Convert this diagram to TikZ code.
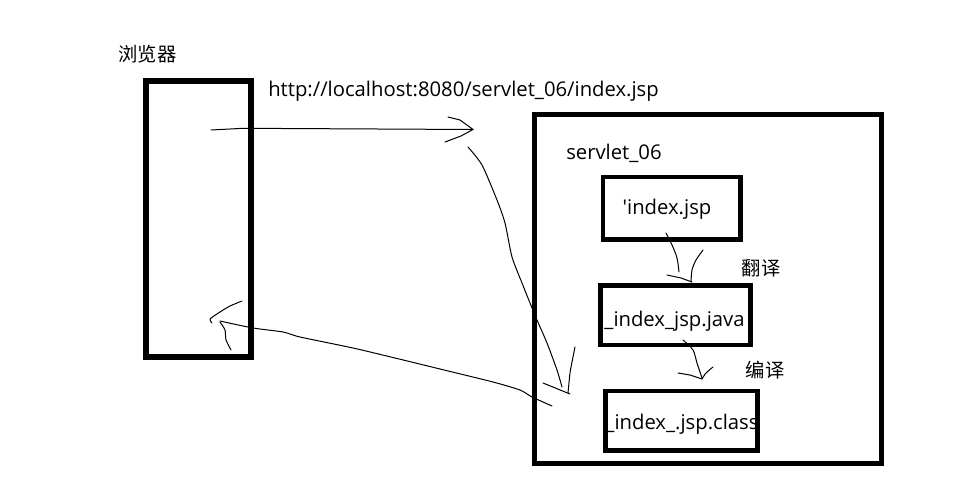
\documentclass[tikz,border=0pt]{standalone}
\usepackage{fontspec}
\setmainfont{Open Sans}
\newfontfamily\cjk{Noto Sans CJK SC}
\begin{document}
\begin{tikzpicture}[x=0.75pt,y=-0.75pt,
  bigbox/.style={draw,line width=4.5pt,inner sep=0pt},
  srvbox/.style={draw,line width=3.75pt,inner sep=0pt},
  filebox/.style={draw,line width=3.4pt,inner sep=0pt},
  txt/.style={font=\fontsize{15.2}{17}\selectfont,inner sep=0pt},
  cjktxt/.style={font=\cjk\fontsize{14.5}{16}\selectfont,inner sep=0pt},
  hand/.style={line width=0.75pt,line cap=round,line join=round}]
\useasboundingbox (0,0) rectangle (968,499);
% boxes
\node[bigbox,minimum width=78.75pt,minimum height=207pt] (browser) at (198.5,219) {};
\node[srvbox,minimum width=260.6pt,minimum height=261.75pt] (server) at (707.75,289) {};
\node[filebox,minimum width=103.1pt,minimum height=46.9pt] (jsp) at (671.75,208.25) {};
\node[filebox,minimum width=112.5pt,minimum height=44.6pt] (java) at (675.5,315.25) {};
\node[filebox,minimum width=114pt,minimum height=44.6pt] (cls) at (681.5,420.75) {};
% labels
\node[cjktxt] (lbrowser) at (147.5,54) {浏览器};
\node[txt,anchor=base west] (url) at (268,97) {http://localhost:8080/servlet\_06/index.jsp};
\node[txt,anchor=base west] (lserver) at (566,160) {servlet\_06};
\node[txt,anchor=base] (ljsp) at (667,215) {\textquotesingle index.jsp};
\node[txt,anchor=base] (ljava) at (674.5,326) {\_index\_jsp.java};
\node[txt,anchor=base] (lcls) at (682,429.3) {\_index\_.jsp.class};
\node[cjktxt] (ltrans) at (761,268) {翻译};
\node[cjktxt] (lcomp) at (765,370) {编译};
% request arrow
\coordinate (reqS) at (211,130);
\coordinate (reqE) at (473,129.5);
\draw[hand] (reqS) -- (243,128.3) -- (reqE);
\draw[hand] (448,117) -- (460,120) -- (reqE) -- (461,136) -- (445,142);
% down arrow into server
\coordinate (dnS) at (468,147);
\coordinate (dnE) at (562,387);
\draw[hand] plot[smooth,tension=0.4] coordinates {(dnS) (482,165) (497,200) (505,223) (512,257) (522,283) (530,303) (537,320) (547,343) (557,370) (dnE)};
\draw[hand] (543,383) -- (570,394);
\draw[hand] plot[smooth,tension=0.4] coordinates {(575,347) (572,362) (570,373) (568,393)};
% response arrow back to browser
\coordinate (rsS) at (552,406);
\coordinate (rsE) at (220,321);
\draw[hand] plot[smooth,tension=0.4] coordinates {(rsS) (532,397) (520,390) (493,382) (440,369) (395,358) (353,348) (300,337) (283,332) (253,328) (rsE)};
\draw[hand] plot[smooth,tension=0.4] coordinates {(242,301) (230,306) (220,312) (210,319) (212,323)};
\draw[hand] plot[smooth,tension=0.4] coordinates {(220,322) (225,330) (226,340) (231,350)};
% jsp -> java
\coordinate (t1S) at (666,233);
\coordinate (t1E) at (679,272);
\draw[hand] plot[smooth,tension=0.5] coordinates {(t1S) (672,245) (677,258) (t1E)};
\draw[hand] (667,275) -- (681,278) -- (692,282);
\draw[hand] plot[smooth,tension=0.5] coordinates {(703,250) (696,260) (692,270) (691,282)};
% java -> class
\coordinate (t2S) at (683,340);
\coordinate (t2E) at (702,378);
\draw[hand] plot[smooth,tension=0.5] coordinates {(t2S) (693,350) (697,363) (t2E)};
\draw[hand] (678,373) -- (690,375) -- (702,379);
\draw[hand] plot[smooth,tension=0.5] coordinates {(713,367) (706,373) (702,379)};
\end{tikzpicture}
\end{document}
